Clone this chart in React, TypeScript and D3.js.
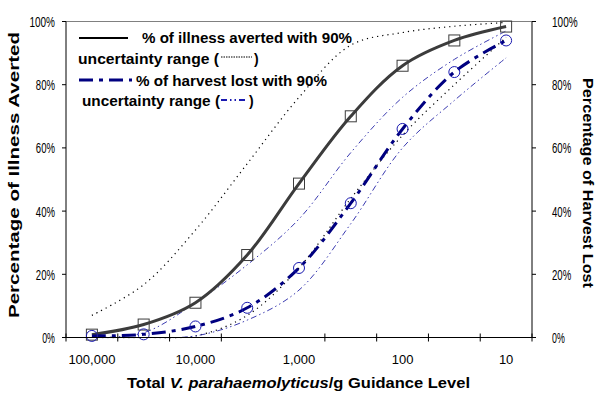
import React from "react";
import * as d3 from "d3";

const categories = ["100,000", "30,000", "10,000", "3,000", "1,000", "300", "100", "30", "10"];
const shownLabels = ["100,000", "10,000", "1,000", "100", "10"];
const yTicks = [0, 20, 40, 60, 80, 100];

const illnessMedian = [0.9, 4.1, 11, 26.1, 48.7, 70, 86, 94, 98.4];
const illnessUpper = [7, 16.7, 34, 55, 76, 92.5, 96.5, 98.5, 99.7];
const illnessLower = [0, 0, 0.5, 7, 22, 44, 64, 80, 95];
const harvestMedian = [0.5, 1, 3.5, 9.4, 22, 42.5, 66, 84, 94];
const harvestUpper = [0, 1.5, 11, 23, 37.5, 58.5, 76, 88, 97];
const harvestLower = [0, 0, 0.5, 5.5, 15, 36, 60, 75, 88.5];

const W = 600, H = 413;
const L = 66, R = 532, T = 21.5, B = 337.5;
const FONT = "'Liberation Sans', Arial, sans-serif";

export default function App() {
  const x = d3.scaleBand<string>().domain(categories).range([L, R]);
  const cx = (c: string) => (x(c) as number) + x.bandwidth() / 2;
  const y = d3.scaleLinear().domain([0, 100]).range([B, T]);
  const line = d3
    .line<number>()
    .x((_, i) => cx(categories[i]))
    .y((v) => y(v))
    .curve(d3.curveCatmullRom.alpha(0.5));

  const boundaries = categories.map((c) => x(c) as number).concat([R]).filter((_, i) => i !== 4);
  const labelLen = (s: string) => s.length * 6.4;

  return (
    <div style={{ position: "fixed", left: 0, top: 0 }}>
      <svg width={W} height={H} style={{ display: "block", background: "#fff" }} fontFamily={FONT}>
        <defs>
          <clipPath id="plot">
            <rect x={L} y={T - 2} width={R - L} height={B - T + 3} />
          </clipPath>
        </defs>
        {/* top border */}
        <line x1={L} x2={R} y1={T} y2={T} stroke="#808080" strokeWidth={1} />

        {/* series */}
        <g clipPath="url(#plot)" fill="none">
          <path d={line(illnessUpper) || ""} stroke="#000" strokeWidth={1.2} strokeDasharray="1.2,4" />
          <path d={line(illnessLower) || ""} stroke="#000" strokeWidth={1.2} strokeDasharray="1.2,4" />
          <path d={line(harvestUpper) || ""} stroke="#3a3ab0" strokeWidth={1} strokeDasharray="6,3,1.5,3,1.5,3" />
          <path d={line(harvestLower) || ""} stroke="#3a3ab0" strokeWidth={1} strokeDasharray="6,3,1.5,3,1.5,3" />
          <path d={line(illnessMedian) || ""} stroke="#3c3c3c" strokeWidth={3} />
          <path d={line(harvestMedian) || ""} stroke="#000080" strokeWidth={3} strokeDasharray="14,6,4,6" />
        </g>
        {/* markers */}
        {illnessMedian.map((v, i) => (
          <rect key={"s" + i} x={cx(categories[i]) - 5.5} y={y(v) - 5.5} width={11} height={11}
            fill="none" stroke="#3c3c3c" strokeWidth={1} />
        ))}
        {harvestMedian.map((v, i) => (
          <circle key={"c" + i} cx={cx(categories[i])} cy={y(v)} r={5.5}
            fill="none" stroke="#1a1ab0" strokeWidth={1} />
        ))}

        {/* axes */}
        <line x1={L} x2={L} y1={T} y2={B} stroke="#000" />
        <line x1={R} x2={R} y1={T} y2={B} stroke="#000" />
        <line x1={L - 4} x2={R + 4} y1={B} y2={B} stroke="#000" />
        {boundaries.map((bx, i) => (
          <line key={"xt" + i} x1={bx} x2={bx} y1={B - 4} y2={B + 4} stroke="#000" />
        ))}
        {yTicks.map((t) => (
          <g key={"yt" + t}>
            <line x1={L - 4} x2={L} y1={y(t)} y2={y(t)} stroke="#000" />
            <line x1={R} x2={R + 4} y1={y(t)} y2={y(t)} stroke="#000" />
            <text x={55} y={y(t) + 5.5} textAnchor="end" fontSize={14}
              textLength={labelLen(t + "%")} lengthAdjust="spacingAndGlyphs">{t + "%"}</text>
            <text x={552} y={y(t) + 5.5} fontSize={14}
              textLength={labelLen(t + "%")} lengthAdjust="spacingAndGlyphs">{t + "%"}</text>
          </g>
        ))}
        {shownLabels.map((lab) => (
          <text key={"xl" + lab} x={cx(lab)} y={364} textAnchor="middle" fontSize={13}>{lab}</text>
        ))}

        {/* axis titles */}
        <text x={127} y={388} fontSize={14} fontWeight="bold" textLength={343} lengthAdjust="spacingAndGlyphs">
          Total <tspan fontStyle="italic">V. parahaemolyticus</tspan>/g Guidance Level
        </text>
        <text transform="translate(19,318) rotate(-90)" fontSize={14} fontWeight="bold"
          textLength={286} lengthAdjust="spacingAndGlyphs">Percentage of Illness Averted</text>
        <text transform="translate(583,78) rotate(90)" fontSize={14} fontWeight="bold"
          textLength={210} lengthAdjust="spacingAndGlyphs">Percentage of Harvest Lost</text>

        {/* legend */}
        <g fontSize={14} fontWeight="bold">
          <line x1={79} x2={128} y1={38} y2={38} stroke="#000" strokeWidth={2} />
          <text x={142} y={43} textLength={210} lengthAdjust="spacingAndGlyphs">% of illness averted with 90%</text>
          <text x={78} y={64} textLength={141} lengthAdjust="spacingAndGlyphs">uncertainty range (</text>
          <line x1={221} x2={252} y1={57} y2={57} stroke="#000" strokeWidth={1} strokeDasharray="1.5,1" />
          <text x={254} y={64}>)</text>
          <line x1={79} x2={132} y1={80} y2={80} stroke="#000080" strokeWidth={3} strokeDasharray="14,6,4,6" />
          <text x={136} y={86} textLength={191} lengthAdjust="spacingAndGlyphs">% of harvest lost with 90%</text>
          <text x={82} y={106} textLength={138} lengthAdjust="spacingAndGlyphs">uncertainty range (</text>
          <line x1={221} x2={248} y1={100} y2={100} stroke="#1a1ab0" strokeWidth={2} strokeDasharray="6,3,1.5,3,1.5,3" />
          <text x={249} y={106}>)</text>
        </g>
      </svg>
    </div>
  );
}
